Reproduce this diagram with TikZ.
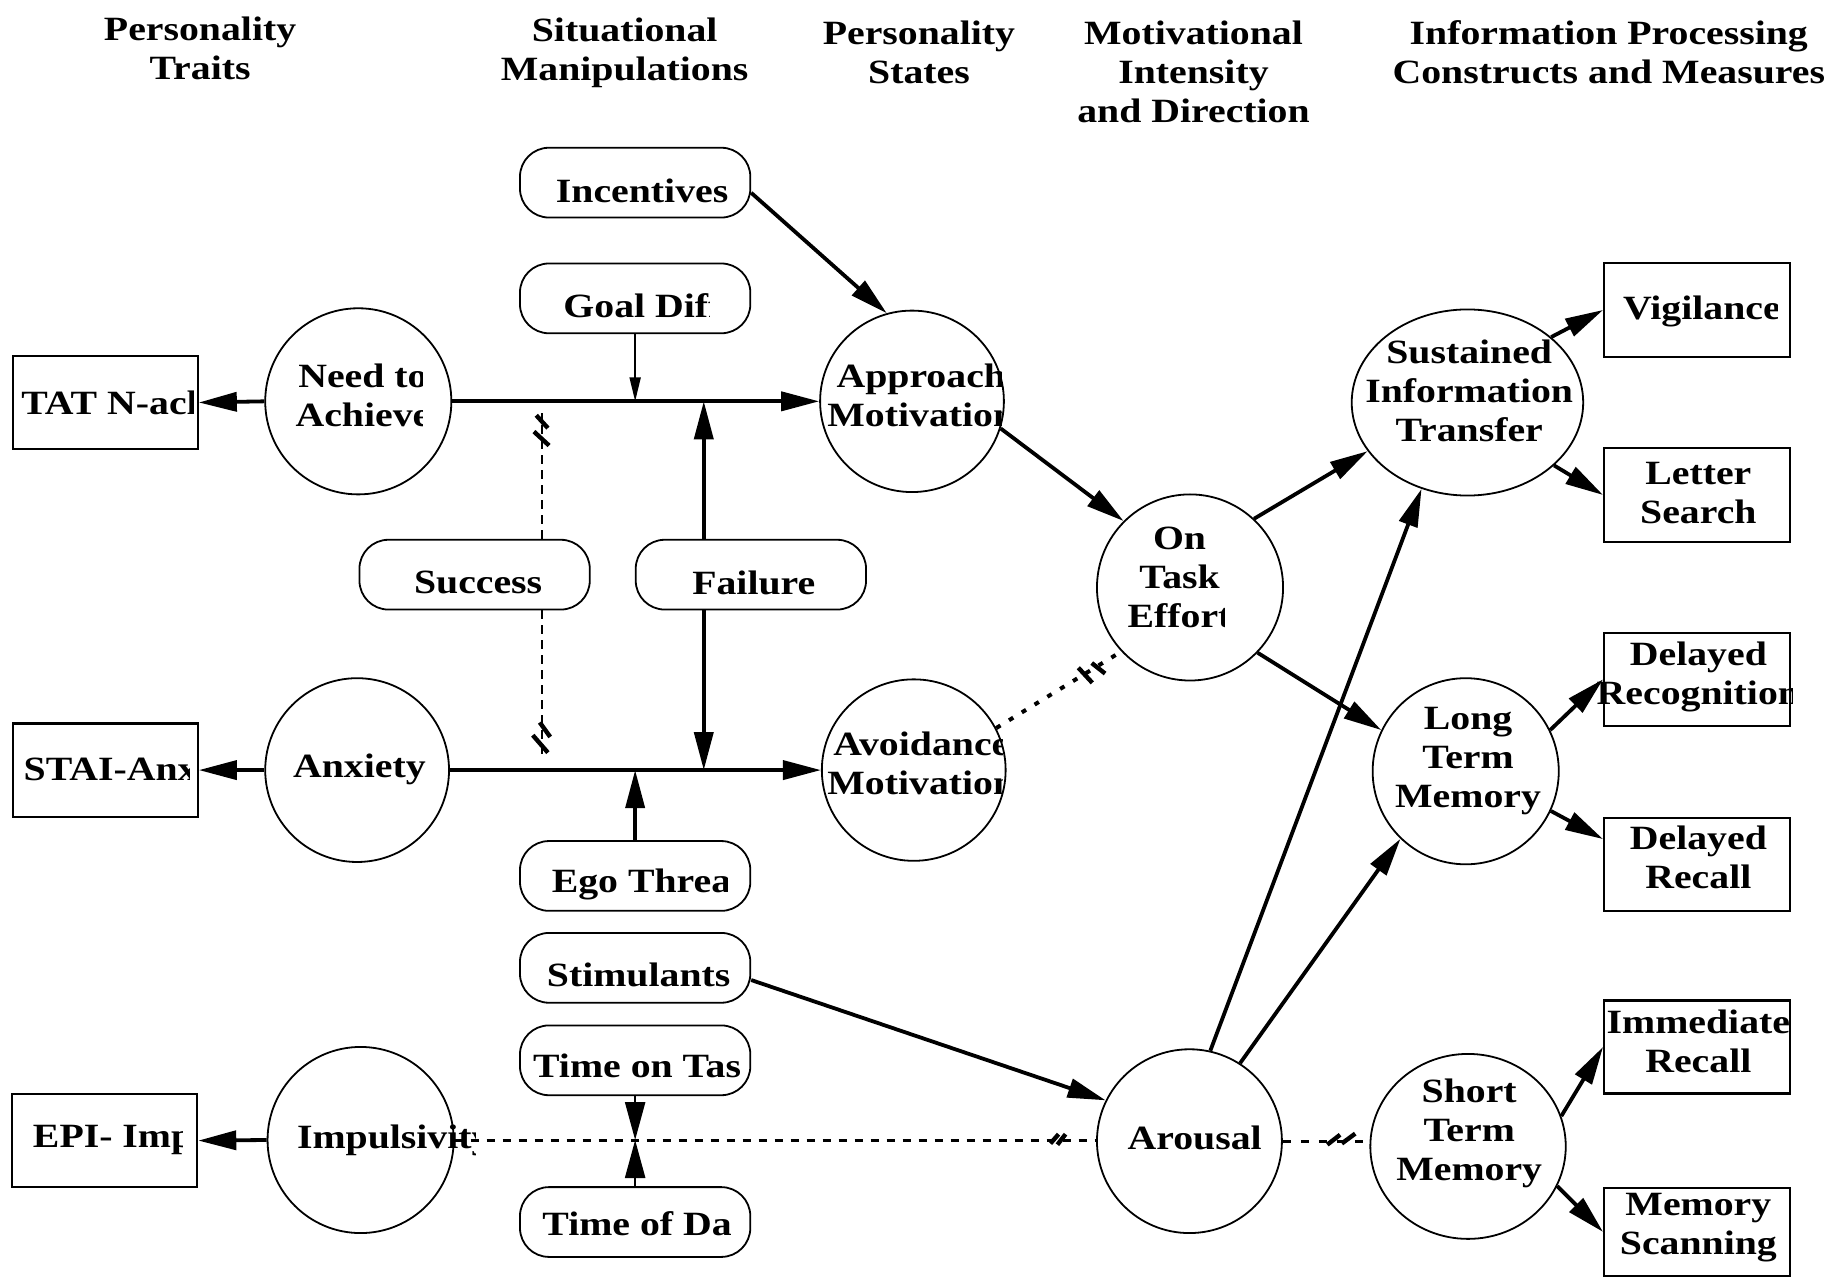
\documentclass[tikz,border=0pt]{standalone}
\usepackage{fontspec}
\setmainfont{Liberation Serif}[FakeStretch=1.17]
\usetikzlibrary{arrows.meta,shapes.geometric}
\newcommand{\pxu}{0.58163pt}
\newcommand{\ctext}[5][]{\begin{scope}\clip (0,0) rectangle (#4,1099);\node[txt,#1] (#2) at #3 {#5};\end{scope}}
\begin{document}
\begin{tikzpicture}[x=0.58163pt, y=-0.58163pt,
  txt/.style={font=\fontsize{17pt}{19.5pt}\selectfont\bfseries, inner sep=0pt, align=center},
  oval/.style 2 args={draw, ellipse, line width=0.9pt, inner sep=0pt, minimum width=#1*\pxu, minimum height=#2*\pxu},
  box/.style 2 args={draw, rectangle, line width=1.1pt, inner sep=0pt, minimum width=#1*\pxu, minimum height=#2*\pxu},
  pill/.style={draw, rectangle, rounded corners=14.5pt, line width=0.9pt, inner sep=0pt, fill=white, minimum width=198*\pxu, minimum height=60*\pxu},
  arr/.style={line width=1.9pt, -{Triangle[length=19pt,width=9.5pt]}},
  thinarr/.style={line width=1pt, -{Triangle[length=12pt,width=5.5pt]}},
  arrtt/.style={line width=1.2pt, -{Triangle[length=19pt,width=10pt]}},
  dsh/.style={line width=1.4pt, dash pattern=on 4.5pt off 3pt},
  dshb/.style={line width=1.5pt, dash pattern=on 4pt off 4pt},
  dshc/.style={line width=1.5pt, dash pattern=on 4pt off 5pt},
  dotl/.style={line width=2pt, dash pattern=on 2.5pt off 5pt},
  hash/.style={line width=2.2pt}
]
\fill[white] (0,0) rectangle (1568,1099);
\useasboundingbox (0,0) rectangle (1568,1099);

% headers
\node[txt] (h1) at (172,42) {Personality\\Traits};
\node[txt] (h2) at (537,45) {Situational\\Manipulations};
\node[txt] (h3) at (790,45) {Personality\\States};
\node[txt] (h4) at (1026,62) {Motivational\\Intensity\\and Direction};
\node[txt] (h5) at (1383,45) {Information Processing\\Constructs and Measures};

% boxes
\node[box={159}{80}] (tat) at (90.5,346) {};
\node[box={159}{80}] (stai) at (90.5,662) {};
\node[box={159}{80}] (epi) at (90,980.5) {};
\node[box={160}{81}] (vig) at (1459,266.5) {};
\node[box={160}{81}] (letter) at (1459,425.5) {};
\node[box={160}{80}] (drec) at (1459,584) {};
\node[box={160}{80}] (drecall) at (1459,743) {};
\node[box={160}{80}] (imm) at (1459,900) {};
\node[box={160}{76}] (mscan) at (1459,1059) {};

% ellipses
\node[oval={160}{160}] (need) at (308,345) {};
\node[oval={158}{158}] (anx) at (307,662) {};
\node[oval={160}{160}] (imp) at (310,980) {};
\node[oval={158}{156}] (appr) at (784,345) {};
\node[oval={158}{156}] (avoid) at (785.5,662) {};
\node[oval={160}{160}] (ontask) at (1023,505) {};
\node[oval={159}{158}] (arousal) at (1022.5,981) {};
\node[oval={199}{160}] (sust) at (1261.5,346) {};
\node[oval={160}{160}] (ltm) at (1260,663) {};
\node[oval={168}{159}] (stm) at (1262,985.5) {};

% pills
\node[pill] (incent) at (546,157) {};
\node[pill] (goal) at (546,256.5) {};
\node[pill] (success) at (408,494) {};
\node[pill] (failure) at (645.5,494) {};
\node[pill] (ego) at (546,753) {};
\node[pill] (stim) at (546,832) {};
\node[pill] (tot) at (546,911.5) {};
\node[pill] (tod) at (546,1050.5) {};

% texts
\ctext[anchor=west]{ttat}{(18,346)}{166}{TAT N-ach}
\ctext[anchor=west]{tstai}{(20,661)}{163}{STAI-Anx}
\ctext[anchor=west]{tepi}{(28,980)}{157}{EPI- Imp}
\ctext{tneed}{(312,340)}{363}{Need to\\Achieve}
\node[txt] (tanx) at (309,661) {Anxiety};
\ctext[anchor=west]{timp}{(255,980)}{409}{Impulsivity}
\node[txt] (tinc) at (552,164) {Incentives};
\ctext[anchor=west]{tgoal}{(484,263)}{610}{Goal Diff}
\node[txt] (tsucc) at (411,501) {Success};
\node[txt] (tfail) at (648,501) {Failure};
\ctext[anchor=west]{tego}{(474,760)}{625}{Ego Threat}
\node[txt] (tstim) at (549,838) {Stimulants};
\ctext[anchor=west]{ttot}{(458,916)}{637}{Time on Task}
\ctext[anchor=west]{ttod}{(466,1055)}{628}{Time of Day}
\ctext{tappr}{(792,340)}{861}{Approach\\Motivation}
\ctext{tavoid}{(792,656)}{862}{Avoidance\\Motivation}
\ctext{tont}{(1014,496)}{1053}{On\\Task\\Effort}
\node[txt] (taro) at (1027,978) {Arousal};
\node[txt] (tsust) at (1263,336) {Sustained\\Information\\Transfer};
\node[txt] (tltm) at (1262,654) {Long\\Term\\Memory};
\node[txt] (tstm) at (1263,974) {Short\\Term\\Memory};
\ctext[anchor=west]{tvig}{(1395,268)}{1528}{Vigilance}
\node[txt] (tlet) at (1460,424) {Letter\\Search};
\ctext{tdrec}{(1460,582)}{1541}{Delayed\\Recognition}
\node[txt] (tdrcl) at (1460,737) {Delayed\\Recall};
\node[txt] (timm) at (1460,895) {Immediate\\Recall};
\node[txt] (tmsc) at (1460,1055) {Memory\\Scanning};

% junction coordinates
\coordinate (jg) at (goal.south |- need.east);
\coordinate (jf1) at (605,345);
\coordinate (jf2) at (605,662);
\coordinate (js1) at (466,355);
\coordinate (js2) at (466,649);
\coordinate (je) at (ego.north |- anx.east);
\coordinate (jt) at (tot.south |- imp.east);

% connectors
\draw[arr] (need.west) -- (tat.east);
\draw[arr] (need.east) -- (appr.west);
\draw[thinarr] (goal.south) -- (jg);
\draw[arr] (failure.north -| jf1) -- (jf1);
\draw[arr] (failure.south -| jf2) -- (jf2);
\draw[dsh] (success.north -| js1) -- (js1);
\draw[dsh] (success.south -| js2) -- (js2);
\draw[hash] (461,357) -- (471,368);
\draw[hash] (459,371) -- (472,383);
\draw[hash] (464,621) -- (473,633.5);
\draw[hash] (458,632) -- (471,647);
\draw[arr] (anx.west) -- (stai.east);
\draw[arr] (anx.east) -- (avoid.west);
\draw[arr] (ego.north) -- (je);
\draw[arr] (incent.-5) -- (appr.106);
\draw[arr] (appr.-17) -- (ontask.135);
\draw[dotl] (avoid.27) -- (ontask.223);
\draw[hash] (927,574) -- (939,587);
\draw[hash] (938.5,570) -- (950,579);
\draw[arr] (ontask.47) -- (sust.206);
\draw[arr] (ontask.-44) -- (ltm.154);
\draw[arr] (sust.38) -- (vig.west);
\draw[arr] (sust.-36) -- (letter.west);
\draw[arr] (ltm.26) -- (drec.west);
\draw[arr] (ltm.-25) -- (drecall.165);
\draw[arr] (arousal.77) -- (sust.242);
\draw[arr] (arousal.57) -- (ltm.226);
\draw[arr] (stim.-6) -- (arousal.154);
\draw[dshb] (imp.east) -- (imp.east -| arousal.west);
\draw[hash] (903,983) -- (910,975);
\draw[hash] (909,984) -- (916,975);
\draw[arrtt] (tot.south) -- (jt);
\draw[arrtt] (tod.north) -- (jt);
\draw[arr] (imp.west) -- (epi.east);
\draw[dshc] (arousal.east) -- (arousal.east -| stm.west);
\draw[hash] (1141,984) -- (1152,975.5);
\draw[hash] (1153.5,983) -- (1165,974.5);
\draw[arr] (stm.18) -- (imm.west);
\draw[arr] (stm.-24) -- (mscan.west);
\end{tikzpicture}
\end{document}
